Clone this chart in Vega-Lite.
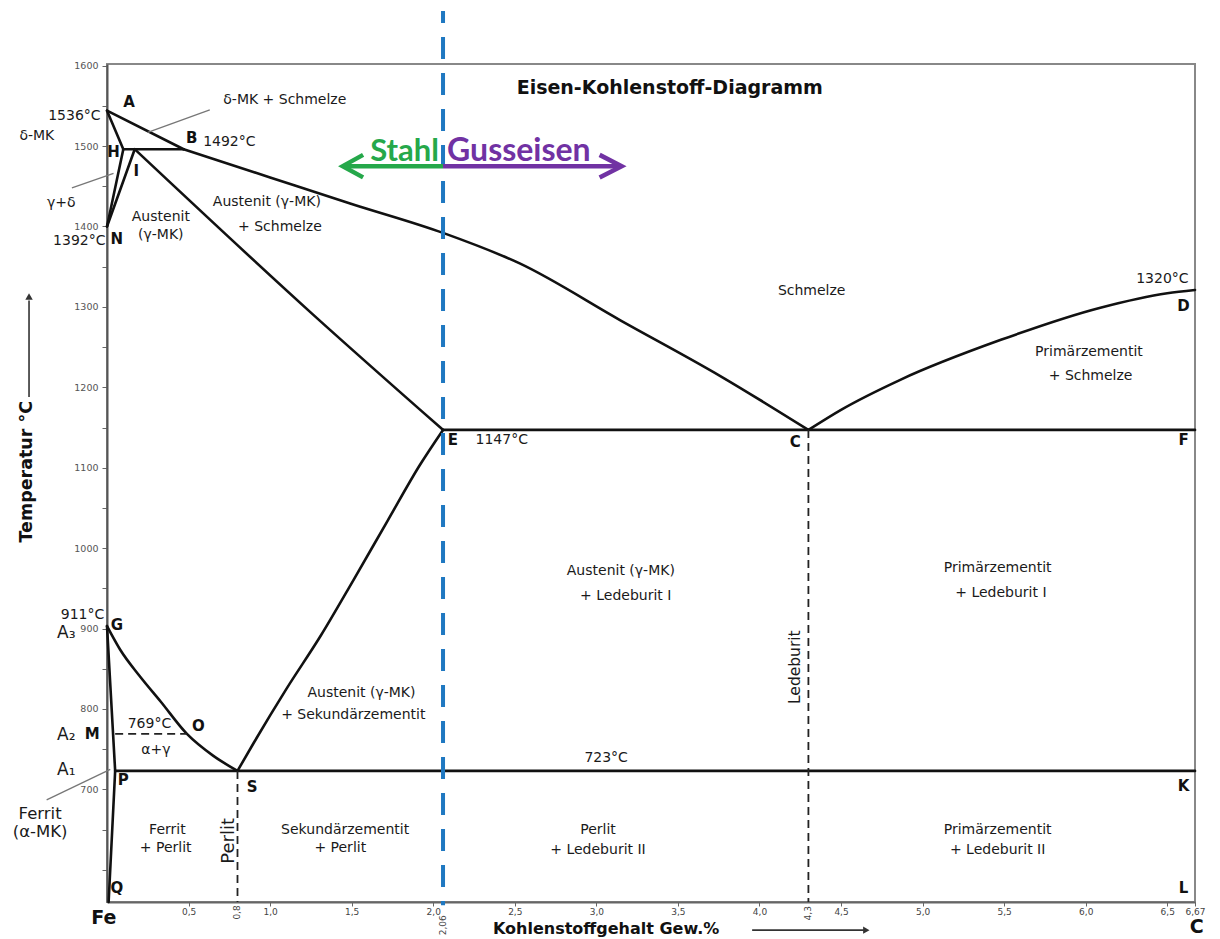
{
  "$schema": "https://vega.github.io/schema/vega-lite/v6.json",
  "autosize": {"type": "none"},
  "width": 1088,
  "height": 838,
  "padding": {"left": 107, "top": 64, "right": 25, "bottom": 37},
  "background": "white",
  "config": {
    "view": {"stroke": "#888", "strokeWidth": 2},
    "font": "DejaVu Sans",
    "text": {"font": "DejaVu Sans", "color": "#1a1a1a"}
  },
  "datasets": {
    "curves": [
      {"seg": "BC", "o": 1, "x": 0.47, "T": 1496}, {"seg": "BC", "o": 2, "x": 1.0, "T": 1461}, {"seg": "BC", "o": 3, "x": 1.5, "T": 1428}, {"seg": "BC", "o": 4, "x": 2.06, "T": 1392}, {"seg": "BC", "o": 5, "x": 2.53, "T": 1354}, {"seg": "BC", "o": 6, "x": 3.15, "T": 1283}, {"seg": "BC", "o": 7, "x": 3.76, "T": 1214}, {"seg": "BC", "o": 8, "x": 4.3, "T": 1147},
      {"seg": "CD", "o": 1, "x": 4.3, "T": 1147}, {"seg": "CD", "o": 2, "x": 4.5, "T": 1172}, {"seg": "CD", "o": 3, "x": 4.86, "T": 1209}, {"seg": "CD", "o": 4, "x": 5.48, "T": 1259}, {"seg": "CD", "o": 5, "x": 6.09, "T": 1299}, {"seg": "CD", "o": 6, "x": 6.5, "T": 1317}, {"seg": "CD", "o": 7, "x": 6.67, "T": 1321},
      {"seg": "IE", "o": 1, "x": 0.17, "T": 1496}, {"seg": "IE", "o": 2, "x": 1.26, "T": 1291}, {"seg": "IE", "o": 3, "x": 2.06, "T": 1147},
      {"seg": "GS", "o": 1, "x": 0, "T": 903}, {"seg": "GS", "o": 2, "x": 0.08, "T": 874}, {"seg": "GS", "o": 3, "x": 0.2, "T": 841}, {"seg": "GS", "o": 4, "x": 0.33, "T": 809}, {"seg": "GS", "o": 5, "x": 0.49, "T": 769}, {"seg": "GS", "o": 6, "x": 0.65, "T": 742}, {"seg": "GS", "o": 7, "x": 0.8, "T": 723},
      {"seg": "SE", "o": 1, "x": 0.8, "T": 723}, {"seg": "SE", "o": 2, "x": 0.9, "T": 758}, {"seg": "SE", "o": 3, "x": 1.1, "T": 825}, {"seg": "SE", "o": 4, "x": 1.31, "T": 891}, {"seg": "SE", "o": 5, "x": 1.51, "T": 960}, {"seg": "SE", "o": 6, "x": 1.72, "T": 1034}, {"seg": "SE", "o": 7, "x": 1.92, "T": 1104}, {"seg": "SE", "o": 8, "x": 2.06, "T": 1147}
    ],
    "straight": [
      {"seg": "AB", "o": 1, "x": 0, "T": 1544}, {"seg": "AB", "o": 2, "x": 0.47, "T": 1496},
      {"seg": "AH", "o": 1, "x": 0, "T": 1544}, {"seg": "AH", "o": 2, "x": 0.1, "T": 1496},
      {"seg": "HN", "o": 1, "x": 0.1, "T": 1496}, {"seg": "HN", "o": 2, "x": 0, "T": 1400},
      {"seg": "IN", "o": 1, "x": 0.17, "T": 1496}, {"seg": "IN", "o": 2, "x": 0, "T": 1400},
      {"seg": "HB", "o": 1, "x": 0.1, "T": 1496}, {"seg": "HB", "o": 2, "x": 0.47, "T": 1496},
      {"seg": "EF", "o": 1, "x": 2.06, "T": 1147}, {"seg": "EF", "o": 2, "x": 6.67, "T": 1147},
      {"seg": "GP", "o": 1, "x": 0, "T": 903}, {"seg": "GP", "o": 2, "x": 0.05, "T": 723},
      {"seg": "PQ", "o": 1, "x": 0.05, "T": 723}, {"seg": "PQ", "o": 2, "x": 0.01, "T": 560},
      {"seg": "PK", "o": 1, "x": 0.05, "T": 723}, {"seg": "PK", "o": 2, "x": 6.67, "T": 723}
    ],
    "dashed": [
      {"seg": "d08", "o": 1, "x": 0.8, "T": 723}, {"seg": "d08", "o": 2, "x": 0.8, "T": 560},
      {"seg": "d43", "o": 1, "x": 4.3, "T": 1147}, {"seg": "d43", "o": 2, "x": 4.3, "T": 560},
      {"seg": "MO", "o": 1, "x": 0.05, "T": 769}, {"seg": "MO", "o": 2, "x": 0.49, "T": 769}
    ],
    "leaders": [
      {"seg": "l1", "o": 1, "x": 0.63, "T": 1545}, {"seg": "l1", "o": 2, "x": 0.25, "T": 1517},
      {"seg": "l2", "o": 1, "x": -0.215, "T": 1448}, {"seg": "l2", "o": 2, "x": 0.04, "T": 1466},
      {"seg": "l3", "o": 1, "x": -0.37, "T": 687}, {"seg": "l3", "o": 2, "x": 0.02, "T": 725}
    ],
    "blue": [
      {"seg": "b", "o": 1, "x": 2.06, "T": 1668}, {"seg": "b", "o": 2, "x": 2.06, "T": 556}
    ],
    "green": [
      {"seg": "shaft", "o": 1, "x": 2.06, "T": 1475}, {"seg": "shaft", "o": 2, "x": 1.45, "T": 1475},
      {"seg": "head", "o": 1, "x": 1.57, "T": 1489}, {"seg": "head", "o": 2, "x": 1.445, "T": 1475}, {"seg": "head", "o": 3, "x": 1.57, "T": 1461}
    ],
    "purple": [
      {"seg": "shaft", "o": 1, "x": 2.06, "T": 1475}, {"seg": "shaft", "o": 2, "x": 3.15, "T": 1475},
      {"seg": "head", "o": 1, "x": 3.02, "T": 1489}, {"seg": "head", "o": 2, "x": 3.155, "T": 1475}, {"seg": "head", "o": 3, "x": 3.02, "T": 1461}
    ],
    "axarrows": [
      {"seg": "xa", "o": 1, "x": 3.955, "T": 525}, {"seg": "xa", "o": 2, "x": 4.64, "T": 525},
      {"seg": "ya", "o": 1, "x": -0.478, "T": 1188}, {"seg": "ya", "o": 2, "x": -0.478, "T": 1308}
    ],
    "heads": [
      {"dir": "right", "x": 4.655, "T": 525},
      {"dir": "up", "x": -0.478, "T": 1313}
    ],
    "texts": [
      {"t": "δ-MK + Schmelze", "x": 1.09, "T": 1557, "k": "region"},
      {"t": "δ-MK", "x": -0.43, "T": 1512, "k": "region"},
      {"t": "γ+δ", "x": -0.28, "T": 1429, "k": "region"},
      {"t": "Austenit", "x": 0.33, "T": 1412, "k": "region"},
      {"t": "(γ-MK)", "x": 0.33, "T": 1389, "k": "region"},
      {"t": "Austenit (γ-MK)", "x": 0.98, "T": 1430, "k": "region"},
      {"t": "+ Schmelze", "x": 1.06, "T": 1399, "k": "region"},
      {"t": "Schmelze", "x": 4.32, "T": 1320, "k": "region"},
      {"t": "Primärzementit", "x": 6.02, "T": 1244, "k": "region"},
      {"t": "+ Schmelze", "x": 6.03, "T": 1214, "k": "region"},
      {"t": "Austenit (γ-MK)", "x": 3.15, "T": 972, "k": "region"},
      {"t": "+ Ledeburit I", "x": 3.18, "T": 940, "k": "region"},
      {"t": "Primärzementit", "x": 5.46, "T": 975, "k": "region"},
      {"t": "+ Ledeburit I", "x": 5.48, "T": 944, "k": "region"},
      {"t": "Austenit (γ-MK)", "x": 1.56, "T": 820, "k": "region"},
      {"t": "+ Sekundärzementit", "x": 1.51, "T": 792, "k": "region"},
      {"t": "α+γ", "x": 0.3, "T": 749, "k": "region"},
      {"t": "Ferrit", "x": 0.37, "T": 650, "k": "region"},
      {"t": "+ Perlit", "x": 0.36, "T": 627, "k": "region"},
      {"t": "Sekundärzementit", "x": 1.46, "T": 650, "k": "region"},
      {"t": "+ Perlit", "x": 1.43, "T": 627, "k": "region"},
      {"t": "Perlit", "x": 3.01, "T": 650, "k": "region"},
      {"t": "+ Ledeburit II", "x": 3.01, "T": 625, "k": "region"},
      {"t": "Primärzementit", "x": 5.46, "T": 650, "k": "region"},
      {"t": "+ Ledeburit II", "x": 5.46, "T": 625, "k": "region"},
      {"t": "1536°C", "x": -0.2, "T": 1537, "k": "temp"},
      {"t": "1492°C", "x": 0.75, "T": 1505, "k": "temp"},
      {"t": "1392°C", "x": -0.17, "T": 1382, "k": "temp"},
      {"t": "1320°C", "x": 6.47, "T": 1335, "k": "temp"},
      {"t": "1147°C", "x": 2.42, "T": 1134, "k": "temp"},
      {"t": "911°C", "x": -0.15, "T": 917, "k": "temp"},
      {"t": "769°C", "x": 0.26, "T": 781, "k": "temp"},
      {"t": "723°C", "x": 3.06, "T": 739, "k": "temp"},
      {"t": "A", "x": 0.135, "T": 1555, "k": "point"},
      {"t": "B", "x": 0.52, "T": 1510, "k": "point"},
      {"t": "H", "x": 0.04, "T": 1493, "k": "point"},
      {"t": "I", "x": 0.18, "T": 1469, "k": "point"},
      {"t": "N", "x": 0.06, "T": 1385, "k": "point"},
      {"t": "D", "x": 6.6, "T": 1301, "k": "point"},
      {"t": "E", "x": 2.12, "T": 1134, "k": "point"},
      {"t": "C", "x": 4.22, "T": 1132, "k": "point"},
      {"t": "F", "x": 6.6, "T": 1134, "k": "point"},
      {"t": "G", "x": 0.06, "T": 904, "k": "point"},
      {"t": "M", "x": -0.09, "T": 769, "k": "point"},
      {"t": "O", "x": 0.56, "T": 779, "k": "point"},
      {"t": "P", "x": 0.1, "T": 712, "k": "point"},
      {"t": "S", "x": 0.89, "T": 703, "k": "point"},
      {"t": "K", "x": 6.6, "T": 704, "k": "point"},
      {"t": "Q", "x": 0.06, "T": 577, "k": "point"},
      {"t": "L", "x": 6.6, "T": 577, "k": "point"},
      {"t": "Fe", "x": -0.02, "T": 540, "k": "big"},
      {"t": "C", "x": 6.68, "T": 529, "k": "big"},
      {"t": "A₃", "x": -0.25, "T": 895, "k": "acrit"},
      {"t": "A₂", "x": -0.25, "T": 768, "k": "acrit"},
      {"t": "A₁", "x": -0.25, "T": 724, "k": "acrit"},
      {"t": "Ferrit", "x": -0.41, "T": 670, "k": "ferrit"},
      {"t": "(α-MK)", "x": -0.41, "T": 647, "k": "ferrit"},
      {"t": "Ledeburit", "x": 4.22, "T": 852, "k": "vertL"},
      {"t": "Perlit", "x": 0.75, "T": 636, "k": "vertP"},
      {"t": "Eisen-Kohlenstoff-Diagramm", "x": 3.45, "T": 1572, "k": "title"},
      {"t": "Stahl", "x": 2.035, "T": 1481, "k": "stahl"},
      {"t": "Gusseisen", "x": 2.085, "T": 1481, "k": "guss"},
      {"t": "Kohlenstoffgehalt Gew.%", "x": 3.06, "T": 526, "k": "xtitle"},
      {"t": "Temperatur °C", "x": -0.49, "T": 1095, "k": "ytitle"},
      {"t": "0,8", "x": 0.8, "T": 547, "k": "xtickrot"},
      {"t": "2,06", "x": 2.06, "T": 531, "k": "xtickrot"},
      {"t": "4,3", "x": 4.3, "T": 546, "k": "xtickrot"}
    ]
  },
  "layer": [
    {
      "data": {"name": "straight"},
      "mark": {"type": "line", "color": "#111", "strokeWidth": 2.6, "strokeCap": "round", "strokeJoin": "round"},
      "encoding": {
        "x": {
          "field": "x", "type": "quantitative",
          "scale": {"domain": [0, 6.67], "nice": false, "zero": false},
          "axis": {
            "title": null, "grid": false,
            "values": [0.5, 1, 1.5, 2, 2.5, 3, 3.5, 4, 4.5, 5, 5.5, 6, 6.5, 6.67],
            "labelExpr": "datum.value == 6.67 ? '6,67' : replace(format(datum.value, '.1f'), '.', ',')",
            "labelFontSize": 9, "labelColor": "#444", "labelPadding": 1,
            "tickSize": 4, "tickColor": "#666", "domainColor": "#666", "domainWidth": 2,
            "labelOverlap": false, "labelFlush": false
          }
        },
        "y": {
          "field": "T", "type": "quantitative",
          "scale": {"domain": [560, 1602], "nice": false, "zero": false},
          "axis": {
            "title": null, "grid": false,
            "values": [600, 650, 700, 750, 800, 850, 900, 950, 1000, 1050, 1100, 1150, 1200, 1250, 1300, 1350, 1400, 1450, 1500, 1550, 1600],
            "labelExpr": "datum.value % 100 == 0 && datum.value >= 700 ? format(datum.value, 'd') : ''",
            "labelFontSize": 9.5, "labelColor": "#555", "labelPadding": 4,
            "tickSize": 5, "tickColor": "#666", "domainColor": "#555", "domainWidth": 2,
            "labelOverlap": false, "labelFlush": false
          }
        },
        "detail": {"field": "seg"},
        "order": {"field": "o"}
      }
    },
    {
      "data": {"name": "curves"},
      "mark": {"type": "line", "color": "#111", "strokeWidth": 2.6, "strokeCap": "round", "interpolate": "monotone"},
      "encoding": {
        "x": {"field": "x", "type": "quantitative"},
        "y": {"field": "T", "type": "quantitative"},
        "detail": {"field": "seg"},
        "order": {"field": "o"}
      }
    },
    {
      "data": {"name": "dashed"},
      "mark": {"type": "line", "color": "#222", "strokeWidth": 1.8, "strokeDash": [8, 5]},
      "encoding": {
        "x": {"field": "x", "type": "quantitative"},
        "y": {"field": "T", "type": "quantitative"},
        "detail": {"field": "seg"},
        "order": {"field": "o"}
      }
    },
    {
      "data": {"name": "leaders"},
      "mark": {"type": "line", "color": "#777", "strokeWidth": 1.3},
      "encoding": {
        "x": {"field": "x", "type": "quantitative"},
        "y": {"field": "T", "type": "quantitative"},
        "detail": {"field": "seg"},
        "order": {"field": "o"}
      }
    },
    {
      "data": {"name": "blue"},
      "mark": {"type": "line", "color": "#1f78c1", "strokeWidth": 4, "strokeDash": [22, 14], "strokeDashOffset": 10},
      "encoding": {
        "x": {"field": "x", "type": "quantitative"},
        "y": {"field": "T", "type": "quantitative"},
        "detail": {"field": "seg"},
        "order": {"field": "o"}
      }
    },
    {
      "data": {"name": "green"},
      "mark": {"type": "line", "color": "#25a84a", "strokeWidth": 4.5, "strokeJoin": "miter"},
      "encoding": {
        "x": {"field": "x", "type": "quantitative"},
        "y": {"field": "T", "type": "quantitative"},
        "detail": {"field": "seg"},
        "order": {"field": "o"}
      }
    },
    {
      "data": {"name": "purple"},
      "mark": {"type": "line", "color": "#7132a3", "strokeWidth": 4.5, "strokeJoin": "miter"},
      "encoding": {
        "x": {"field": "x", "type": "quantitative"},
        "y": {"field": "T", "type": "quantitative"},
        "detail": {"field": "seg"},
        "order": {"field": "o"}
      }
    },
    {
      "data": {"name": "axarrows"},
      "mark": {"type": "line", "color": "#333", "strokeWidth": 1.6},
      "encoding": {
        "x": {"field": "x", "type": "quantitative"},
        "y": {"field": "T", "type": "quantitative"},
        "detail": {"field": "seg"},
        "order": {"field": "o"}
      }
    },
    {
      "data": {"name": "heads"},
      "mark": {"type": "point", "filled": true, "color": "#333", "size": 55, "opacity": 1},
      "encoding": {
        "x": {"field": "x", "type": "quantitative"},
        "y": {"field": "T", "type": "quantitative"},
        "shape": {"field": "dir", "type": "nominal", "scale": {"domain": ["right", "up"], "range": ["triangle-right", "triangle-up"]}, "legend": null}
      }
    },
    {
      "data": {"name": "texts"},
      "transform": [{"filter": "datum.k == 'region'"}],
      "mark": {"type": "text", "fontSize": 14, "color": "#1a1a1a"},
      "encoding": {"x": {"field": "x", "type": "quantitative"}, "y": {"field": "T", "type": "quantitative"}, "text": {"field": "t"}}
    },
    {
      "data": {"name": "texts"},
      "transform": [{"filter": "datum.k == 'temp'"}],
      "mark": {"type": "text", "fontSize": 14, "color": "#1a1a1a"},
      "encoding": {"x": {"field": "x", "type": "quantitative"}, "y": {"field": "T", "type": "quantitative"}, "text": {"field": "t"}}
    },
    {
      "data": {"name": "texts"},
      "transform": [{"filter": "datum.k == 'point'"}],
      "mark": {"type": "text", "fontSize": 15, "fontWeight": "bold", "color": "#111"},
      "encoding": {"x": {"field": "x", "type": "quantitative"}, "y": {"field": "T", "type": "quantitative"}, "text": {"field": "t"}}
    },
    {
      "data": {"name": "texts"},
      "transform": [{"filter": "datum.k == 'big'"}],
      "mark": {"type": "text", "fontSize": 19, "fontWeight": "bold", "color": "#111"},
      "encoding": {"x": {"field": "x", "type": "quantitative"}, "y": {"field": "T", "type": "quantitative"}, "text": {"field": "t"}}
    },
    {
      "data": {"name": "texts"},
      "transform": [{"filter": "datum.k == 'acrit'"}],
      "mark": {"type": "text", "fontSize": 17, "color": "#1a1a1a"},
      "encoding": {"x": {"field": "x", "type": "quantitative"}, "y": {"field": "T", "type": "quantitative"}, "text": {"field": "t"}}
    },
    {
      "data": {"name": "texts"},
      "transform": [{"filter": "datum.k == 'ferrit'"}],
      "mark": {"type": "text", "fontSize": 16.5, "color": "#1a1a1a"},
      "encoding": {"x": {"field": "x", "type": "quantitative"}, "y": {"field": "T", "type": "quantitative"}, "text": {"field": "t"}}
    },
    {
      "data": {"name": "texts"},
      "transform": [{"filter": "datum.k == 'vertL'"}],
      "mark": {"type": "text", "fontSize": 15.5, "angle": 270, "color": "#1a1a1a"},
      "encoding": {"x": {"field": "x", "type": "quantitative"}, "y": {"field": "T", "type": "quantitative"}, "text": {"field": "t"}}
    },
    {
      "data": {"name": "texts"},
      "transform": [{"filter": "datum.k == 'vertP'"}],
      "mark": {"type": "text", "fontSize": 18, "angle": 270, "color": "#1a1a1a"},
      "encoding": {"x": {"field": "x", "type": "quantitative"}, "y": {"field": "T", "type": "quantitative"}, "text": {"field": "t"}}
    },
    {
      "data": {"name": "texts"},
      "transform": [{"filter": "datum.k == 'title'"}],
      "mark": {"type": "text", "fontSize": 19, "fontWeight": "bold", "color": "#111"},
      "encoding": {"x": {"field": "x", "type": "quantitative"}, "y": {"field": "T", "type": "quantitative"}, "text": {"field": "t"}}
    },
    {
      "data": {"name": "texts"},
      "transform": [{"filter": "datum.k == 'stahl'"}],
      "mark": {"type": "text", "font": "Lato", "fontSize": 31, "fontWeight": "bold", "color": "#25a84a", "align": "right", "baseline": "alphabetic"},
      "encoding": {"x": {"field": "x", "type": "quantitative"}, "y": {"field": "T", "type": "quantitative"}, "text": {"field": "t"}}
    },
    {
      "data": {"name": "texts"},
      "transform": [{"filter": "datum.k == 'guss'"}],
      "mark": {"type": "text", "font": "Lato", "fontSize": 32, "fontWeight": "bold", "color": "#7132a3", "align": "left", "baseline": "alphabetic"},
      "encoding": {"x": {"field": "x", "type": "quantitative"}, "y": {"field": "T", "type": "quantitative"}, "text": {"field": "t"}}
    },
    {
      "data": {"name": "texts"},
      "transform": [{"filter": "datum.k == 'xtitle'"}],
      "mark": {"type": "text", "fontSize": 16, "fontWeight": "bold", "color": "#111"},
      "encoding": {"x": {"field": "x", "type": "quantitative"}, "y": {"field": "T", "type": "quantitative"}, "text": {"field": "t"}}
    },
    {
      "data": {"name": "texts"},
      "transform": [{"filter": "datum.k == 'ytitle'"}],
      "mark": {"type": "text", "fontSize": 17.5, "fontWeight": "bold", "angle": 270, "color": "#111"},
      "encoding": {"x": {"field": "x", "type": "quantitative"}, "y": {"field": "T", "type": "quantitative"}, "text": {"field": "t"}}
    },
    {
      "data": {"name": "texts"},
      "transform": [{"filter": "datum.k == 'xtickrot'"}],
      "mark": {"type": "text", "fontSize": 9, "angle": 270, "color": "#444"},
      "encoding": {"x": {"field": "x", "type": "quantitative"}, "y": {"field": "T", "type": "quantitative"}, "text": {"field": "t"}}
    }
  ]
}
